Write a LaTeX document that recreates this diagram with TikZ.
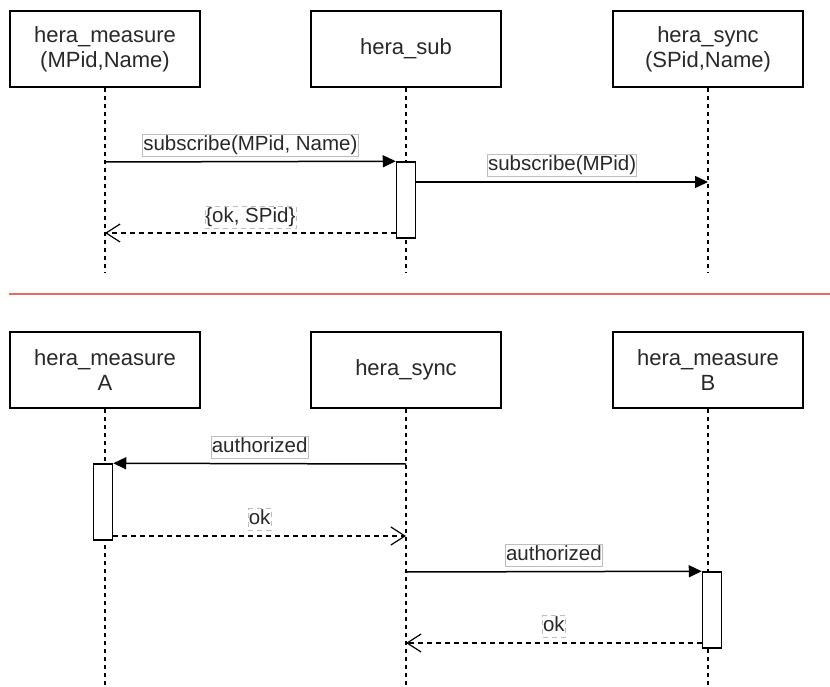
\documentclass[tikz,border=0pt]{standalone}
\usepackage{fontspec}
\setmainfont{Liberation Sans}
\usetikzlibrary{arrows.meta}
\definecolor{divred}{RGB}{234,107,102}
\definecolor{lblgray}{RGB}{190,190,190}
\definecolor{inkgray}{RGB}{40,40,40}

\begin{document}
\begin{tikzpicture}[x=1pt, y=-1pt,
	actor/.style={draw, line width=1.5pt, minimum width=190pt, minimum height=76pt, align=center, text=inkgray, font=\fontsize{22}{25}\selectfont},
	lifeline/.style={line width=1.2pt, dash pattern=on 4pt off 4pt},
	activation/.style={draw, fill=white, line width=1.5pt, minimum width=19pt, minimum height=76pt, inner sep=0pt},
	call/.style={line width=1.5pt, -{Triangle[length=13pt,width=12pt]}},
	reply/.style={line width=1.2pt, dash pattern=on 5pt off 4pt, -{Straight Barb[length=14pt,width=18pt]}},
	lbl/.style={draw=lblgray, line width=0.6pt, fill=white, text=inkgray, font=\fontsize{20.5}{23}\selectfont, inner xsep=0.5pt, inner ysep=1pt, text height=15pt, text depth=5pt}]

		\useasboundingbox (0,0) rectangle (830,687);

		% top part: subscription
		\node[actor] (meas) at (105,49) {hera\_measure\\(MPid,Name)};
		\node[actor] (sub) at (406,49) {hera\_sub};
		\node[actor] (sync) at (708,49) {hera\_sync\\(SPid,Name)};

		\coordinate (measend) at (105,273);
		\coordinate (subend) at (406,273);
		\coordinate (syncend) at (708,273);
		\draw[lifeline] (meas) -- (measend);
		\draw[lifeline] (sub) -- (subend);
		\draw[lifeline] (sync) -- (syncend);

		\node[activation] (subact) at (406,200) {};

		\coordinate (measout) at (105,162);
		\coordinate (syncin) at (708,182);
		\coordinate (measret) at (105,233);
		\draw[call] (measout) -- (subact.north west) node[lbl, midway, above=5pt] {subscribe(MPid, Name)};
		\draw[call] (subact.east |- syncin) -- (syncin) node[lbl, midway, above=5pt] {subscribe(MPid)};
		\draw[reply] (subact.west |- measret) -- (measret) node[lbl, midway, above=4pt] {\{ok, SPid\}};

		% divider
		\draw[divred, line width=2pt] (9,294) -- (830,294);

		% bottom part: authorization
		\node[actor] (measA) at (105,370) {hera\_measure\\A};
		\node[actor] (syncmid) at (406,370) {hera\_sync};
		\node[actor] (measB) at (708,370) {hera\_measure\\B};

		\coordinate (measAend) at (105,687);
		\coordinate (syncmidend) at (406,687);
		\coordinate (measBend) at (708,687);
		\draw[lifeline] (measA) -- (measAend);
		\draw[lifeline] (syncmid) -- (syncmidend);
		\draw[lifeline] (measB) -- (measBend);

		\node[activation] (actA) at (103,502) {};
		\node[activation] (actB) at (712,610) {};

		\coordinate (syncout1) at (406,464);
		\coordinate (syncin1) at (406,536);
		\coordinate (syncout2) at (406,572);
		\coordinate (syncin2) at (406,643);
		\draw[call] (syncout1) -- (actA.north east) node[lbl, midway, above=5pt] {authorized};
		\draw[reply] (actA.east |- syncin1) -- (syncin1) node[lbl, midway, above=5pt] {ok};
		\draw[call] (syncout2) -- (actB.north west) node[lbl, midway, above=5pt] {authorized};
		\draw[reply] (actB.west |- syncin2) -- (syncin2) node[lbl, midway, above=5pt] {ok};

\end{tikzpicture}
\end{document}
